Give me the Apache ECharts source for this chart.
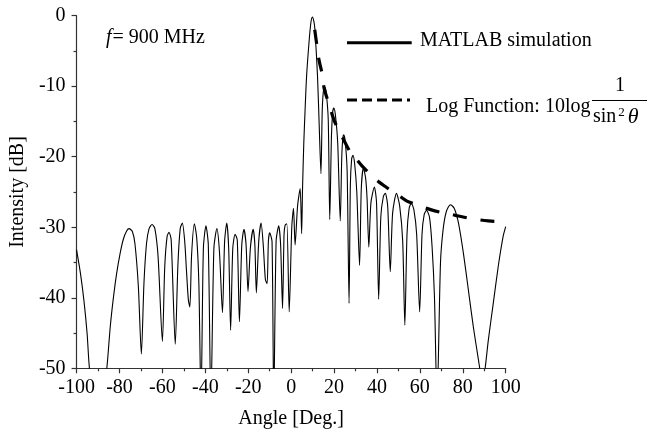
<!DOCTYPE html>
<html><head><meta charset="utf-8">
<script src="https://cdn.jsdelivr.net/npm/echarts@6/dist/echarts.min.js"></script>
<style>html,body{margin:0;padding:0;background:#fff}#c{width:648px;height:437px}</style>
</head><body><div id="c"></div>
<script>
var simAngle = [-100,-98.2,-96.6,-95.1,-94,-90,-85.9,-84.3,-82.8,-81.3,-79.7,-78.2,-76.6,-75.5,-74,-72.8,-71.2,-69.8,-68.6,-67.4,-66.2,-64.8,-63.5,-62,-60,-58.9,-57.8,-56.9,-55.9,-54,-52.8,-51.7,-50.7,-49.6,-48.8,-47.9,-47.2,-46.4,-45.1,-44,-43,-42,-40.9,-39.7,-38.6,-37.4,-36,-34.6,-33.4,-32,-31,-30,-29.1,-28.2,-27.2,-26.1,-25.1,-24.1,-23,-22,-21,-20.1,-19,-17.7,-16.9,-16.2,-15.1,-14,-13,-12,-11.2,-10.6,-10,-8.9,-8.1,-7,-5.8,-4.9,-4,-3.3,-2.8,-2,-0.9,0.3,1.1,1.85,3,4.2,4.9,5.3,5.9,6.5,7.2,8.3,9.2,9.9,10.6,11.1,12.3,13.1,13.9,14.5,15.1,15.7,16.4,17.3,18,18.8,19.4,19.9,20.6,21.7,22.9,23.6,24.1,24.5,25.2,26.1,27,27.6,28.2,28.8,29.6,30.6,31.9,32.7,33.7,34.7,35.4,36.2,37.2,38.8,39.8,40.8,41.8,43,43.9,45,46.2,47.3,49.1,50.6,52,53,54,55,56,57.2,58.5,59.9,61,62,63.1,64.5,65.7,66.8,68,69.6,70.8,72.3,74.2,76,78,80.3,82.6,84.9,87.3,88.2,89.2,90.2,91.9,94.2,96.5,98.8,100];
var simDb = [-33.2,-36.5,-40.3,-45,-50,-60,-50,-44.1,-39.9,-36.5,-33.7,-31.7,-30.5,-30.2,-30.6,-32.3,-38.4,-48,-38,-32.3,-30.2,-29.6,-30.2,-34.2,-46.2,-35.6,-31.3,-30.7,-31.8,-46.6,-35.6,-30.2,-29.4,-32,-36,-40.3,-41.3,-34,-29.5,-31.5,-38,-55,-33,-29.8,-32.5,-55,-33,-30.2,-33.5,-42.1,-32,-29.4,-33,-44.6,-33,-31,-31.8,-43.4,-32.5,-30.3,-32.5,-39.1,-33,-30.3,-32.5,-39.3,-32,-29.4,-32.5,-37.4,-38,-32,-30.8,-32,-55,-32,-29.8,-32.5,-41.5,-31,-29.7,-29.5,-42,-30,-27.3,-32.5,-27,-24.5,-30.9,-24.7,-18.1,-13.4,-8.6,-3.9,-1,-0.2,-0.8,-2,-8.6,-15.7,-22.4,-13.4,-10.5,-10.1,-11,-14.8,-28.9,-17,-13.6,-13.1,-14,-18,-29.1,-20,-17.3,-16.9,-17.8,-22,-40.8,-24,-20.3,-19.8,-21,-25,-35.4,-24.5,-21.6,-23,-26,-32.8,-26.5,-24.3,-26.5,-40.2,-28.5,-25.6,-25.2,-27,-36.3,-28,-25.2,-27,-32,-43.9,-31,-27.3,-26.6,-27.5,-31,-42,-31,-28.2,-27.6,-28.6,-32.8,-39.9,-55,-35.1,-30.4,-27.8,-26.8,-27.3,-29.4,-33.7,-38.9,-44.1,-48.8,-50.5,-51.5,-50.5,-46,-40.8,-35.6,-31.3,-29.9];
var logAngle = [11,12,13,14.5,15.4,17.5,20,22.6,25,27.5,30,33,36,38,41,44.2,48,51.1,54,57.6,61,65,71.4,75,78,84.5,91.9,98.3,100];
var logDb = [-2,-4.2,-6.3,-8.3,-10.3,-12.4,-14.8,-16.5,-17.9,-19.3,-20.2,-21.3,-22.2,-22.8,-23.6,-24.3,-25.1,-25.7,-26.3,-26.7,-27.1,-27.5,-28,-28.2,-28.4,-28.8,-29.1,-29.2,-29.2];
var xTicks = [-100,-80,-60,-40,-20,0,20,40,60,80,100];
var yTicks = [-50,-40,-30,-20,-10,0];

function zip(a,b){var r=[];for(var i=0;i<a.length;i++)r.push([a[i],b[i]]);return r;}
var FONT = 'Liberation Serif';
var FS = 20;
var chart = echarts.init(document.getElementById('c'), null, {renderer:'canvas'});
var axisCommon = {
  axisLine:{show:true,onZero:false,lineStyle:{color:'#333',width:1.2}},
  axisTick:{show:true,inside:false,length:5,lineStyle:{color:'#333',width:1.2}},
  minorTick:{show:true,splitNumber:2,length:3,lineStyle:{color:'#333',width:1.2}},
  splitLine:{show:false}
};
chart.setOption({
  animation:false,
  backgroundColor:'#fff',
  grid:{left:72.5,right:142.3,top:15.7,bottom:68.7,containLabel:false},
  xAxis:Object.assign({type:'value',min:xTicks[0],max:xTicks[xTicks.length-1],interval:20,
    name:'Angle [Deg.]',nameLocation:'middle',nameGap:40,
    nameTextStyle:{color:'#000',fontFamily:FONT,fontSize:FS}},axisCommon,
    {axisLabel:{color:'#000',fontFamily:FONT,fontSize:FS,margin:9,formatter:function(v){return xTicks.indexOf(v)>=0?String(v):'';}}}),
  yAxis:Object.assign({type:'value',min:yTicks[0],max:yTicks[yTicks.length-1],interval:10,
    name:'Intensity [dB]',nameLocation:'middle',nameGap:45,
    nameTextStyle:{color:'#000',fontFamily:FONT,fontSize:FS}},axisCommon,
    {axisLabel:{color:'#000',fontFamily:FONT,fontSize:FS,margin:11,formatter:function(v){return yTicks.indexOf(v)>=0?String(v):'';}}}),
  series:[
    {type:'line',data:zip(simAngle,simDb),showSymbol:false,symbol:'none',smooth:0.25,clip:true,
     lineStyle:{color:'#000',width:1.1}},
    {type:'line',data:zip(logAngle,logDb),showSymbol:false,symbol:'none',smooth:0.3,clip:true,
     lineStyle:{color:'#000',width:3.2,type:[14,14]}}
  ],
  graphic:[
    {type:'text',left:106,top:28,style:{text:'{i|f}= 900 MHz',font:FS+'px '+FONT,fill:'#000',
      rich:{i:{fontStyle:'italic',fontFamily:FONT,fontSize:FS,padding:[0,1,0,0]}}}},
    {type:'line',shape:{x1:347,y1:42.7,x2:411.7,y2:42.7},style:{stroke:'#000',lineWidth:3}},
    {type:'text',left:420,top:31,style:{text:'MATLAB simulation',font:FS+'px '+FONT,fill:'#000'}},
    {type:'line',shape:{x1:347,y1:100,x2:410,y2:100},style:{stroke:'#000',lineWidth:3,lineDash:[10,5]}},
    {type:'text',left:426,top:97,style:{text:'Log Function: 10log',font:FS+'px '+FONT,fill:'#000'}},
    {type:'text',left:615,top:76,style:{text:'1',font:FS+'px '+FONT,fill:'#000'}},
    {type:'line',shape:{x1:592,y1:100.5,x2:647,y2:100.5},style:{stroke:'#000',lineWidth:1}},
    {type:'text',left:593,top:106,style:{text:'sin{s|2}{i|θ}',font:FS+'px '+FONT,fill:'#000',
      rich:{s:{fontSize:13,fontFamily:FONT,verticalAlign:'top',padding:[0,3,8,2]},i:{fontStyle:'italic',fontFamily:FONT,fontSize:22}}}}
  ]
});
</script></body></html>
